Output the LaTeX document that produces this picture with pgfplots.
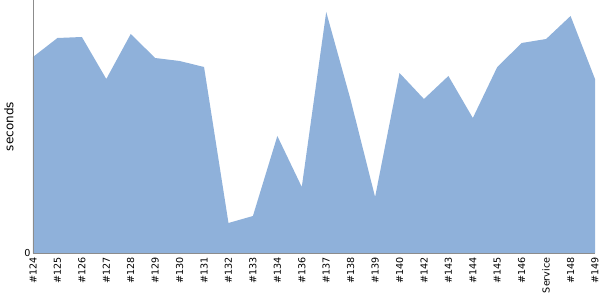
\documentclass[border=0pt]{standalone}
\usepackage{pgfplots}
\pgfplotsset{compat=1.18}
\usepackage{fontspec}
\setmainfont{DejaVu Sans}
\definecolor{areacol}{HTML}{8FB1DA}
\begin{document}
\begin{tikzpicture}
\begin{axis}[
  scale only axis,
  width=562pt, height=253pt,
  xmin=0, xmax=23, ymin=0, ymax=253,
  axis x line*=bottom, axis y line*=left,
  axis line style={draw=gray!90, line width=0.9pt},
  xtick={0,...,23},
  xticklabels={\#124,\#125,\#126,\#127,\#128,\#129,\#130,\#131,\#132,\#133,\#134,\#136,\#137,\#138,\#139,\#140,\#142,\#143,\#144,\#145,\#146,Service,\#148,\#149},
  xticklabel style={rotate=90, anchor=east, font=\fontsize{9.6}{10}\selectfont, xshift=-1pt},
  x tick style={draw=none},
  ytick={0},
  yticklabel style={font=\fontsize{9.6}{10}\selectfont, xshift=1pt},
  /pgf/number format/assume math mode=true,
  y tick style={draw=gray!90},
  major tick length=3pt,
  ylabel={seconds},
  ylabel style={font=\fontsize{12}{14}\selectfont, yshift=4pt},
  axis on top,
]
\addplot[fill=areacol, draw=none] coordinates {
(0,196) (1,215) (2,216) (3,174) (4,219) (5,195) (6,192) (7,186)
(8,30) (9,37) (10,117) (11,66) (12,241) (13,153) (14,56) (15,180)
(16,154) (17,177) (18,135) (19,186) (20,210) (21,214) (22,237) (23,174)
} \closedcycle;
\coordinate (bl) at (rel axis cs:0,0);
\coordinate (tr) at (rel axis cs:1,1);
\end{axis}
\pgfresetboundingbox
\useasboundingbox ([shift={(-33pt,-47pt)}]bl) rectangle ([shift={(5pt,0pt)}]tr);
\end{tikzpicture}
\end{document}
